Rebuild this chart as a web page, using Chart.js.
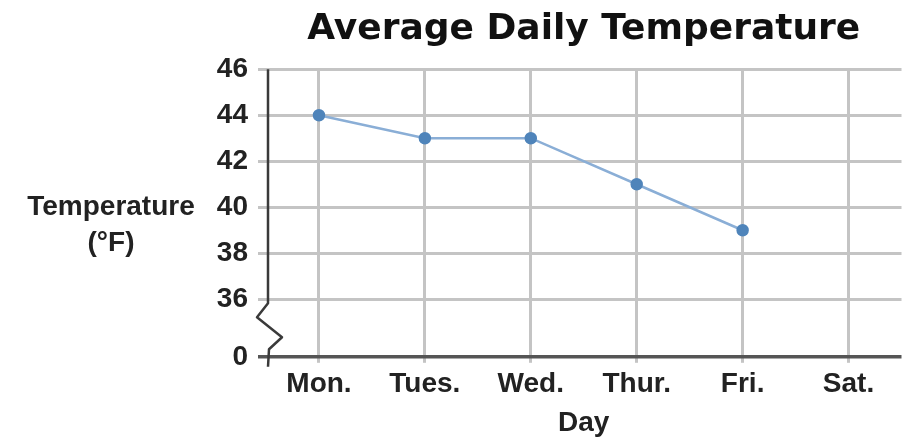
<!DOCTYPE html>
<html>
<head>
<meta charset="utf-8">
<script src="https://cdn.jsdelivr.net/npm/chart.js@4.4.1/dist/chart.umd.min.js"></script>
<style>
html,body{margin:0;padding:0;background:#fff;}
#wrap{width:909px;height:444px;position:relative;}
</style>
</head>
<body>
<div id="wrap"><canvas id="c" width="909" height="444"></canvas></div>
<script>
const days = ['Mon.', 'Tues.', 'Wed.', 'Thur.', 'Fri.', 'Sat.'];
const temps = [44, 43, 43, 41, 39, null];
const yTickValues = [36, 38, 40, 42, 44, 46];
const breakValue = 33.5;      // axis position that carries the "0" label below the break
const breakLabel = '0';
const titleText = 'Average Daily Temperature';
const xTitle = 'Day';
const yTitleLines = ['Temperature', '(°F)'];

const labelFont = "'Liberation Sans Narrow', 'Liberation Sans', Arial, sans-serif";
const gridGray = '#c4c4c4';
const axisDark = '#555555';

const breakPlugin = {
  id: 'breakAxis',
  afterDraw(chart) {
    const ctx = chart.ctx;
    const ys = chart.scales.y;
    const area = chart.chartArea;
    const ax = area.left + 2;
    const y36 = ys.getPixelForValue(yTickValues[0]);
    const y0 = ys.getPixelForValue(breakValue);
    ctx.save();
    ctx.strokeStyle = '#3a3a3a';
    ctx.lineWidth = 2.5;
    ctx.lineJoin = 'round';
    ctx.beginPath();
    ctx.moveTo(ax, area.top);
    ctx.lineTo(ax, y36 + 4);
    ctx.lineTo(ax - 11, y36 + 18);
    ctx.lineTo(ax + 14, y36 + 38);
    ctx.lineTo(ax + 1, y36 + 50);
    ctx.lineTo(ax, y0 + 10);
    ctx.stroke();
    // y axis title, horizontal
    ctx.fillStyle = '#222';
    ctx.font = "bold 28px " + labelFont;
    ctx.textAlign = 'center';
    ctx.textBaseline = 'middle';
    ctx.fillText(yTitleLines[0], 111, 207);
    ctx.fillText(yTitleLines[1], 111, 243);
    ctx.restore();
  }
};

new Chart(document.getElementById('c'), {
  type: 'line',
  data: {
    labels: days,
    datasets: [{
      data: temps,
      borderColor: '#8aaed6',
      borderWidth: 2.5,
      backgroundColor: '#4f84ba',
      pointBackgroundColor: '#4f84ba',
      pointBorderColor: '#4f84ba',
      pointRadius: 5,
      tension: 0,
      spanGaps: false
    }]
  },
  options: {
    responsive: false,
    animation: false,
    devicePixelRatio: 1,
    layout: { padding: { left: 0, right: 4, top: 8, bottom: 4 } },
    plugins: {
      legend: { display: false },
      tooltip: { enabled: false },
      title: {
        display: true,
        text: titleText,
        fullSize: false,
        color: '#111',
        font: { family: "'DejaVu Sans', sans-serif", size: 36, weight: 'bold' },
        padding: { top: 0, bottom: 18 }
      }
    },
    scales: {
      x: {
        type: 'category',
        offset: true,
        grid: {
          offset: false,
          color: gridGray,
          lineWidth: 3,
          drawTicks: true,
          tickLength: 6
        },
        border: { display: false },
        ticks: {
          color: '#222',
          font: { family: labelFont, size: 28, weight: 'bold' },
          padding: 5,
          maxRotation: 0
        },
        title: {
          display: true,
          text: xTitle,
          color: '#222',
          font: { family: labelFont, size: 28, weight: 'bold' },
          padding: { top: 0, bottom: 0 }
        }
      },
      y: {
        type: 'linear',
        min: breakValue,
        max: yTickValues[yTickValues.length - 1],
        afterBuildTicks(scale) {
          scale.ticks = [breakValue].concat(yTickValues).map(v => ({ value: v }));
        },
        afterFit(scale) { scale.width = 266; },
        grid: {
          color: ctx => (ctx.tick && ctx.tick.value === breakValue) ? axisDark : gridGray,
          lineWidth: ctx => (ctx.tick && ctx.tick.value === breakValue) ? 3.5 : 3,
          drawTicks: true,
          tickLength: 8
        },
        border: { display: false },
        ticks: {
          color: '#222',
          font: { family: labelFont, size: 28, weight: 'bold' },
          padding: 10,
          callback: v => v === breakValue ? breakLabel : String(v)
        }
      }
    }
  },
  plugins: [breakPlugin]
});
</script>
</body>
</html>
